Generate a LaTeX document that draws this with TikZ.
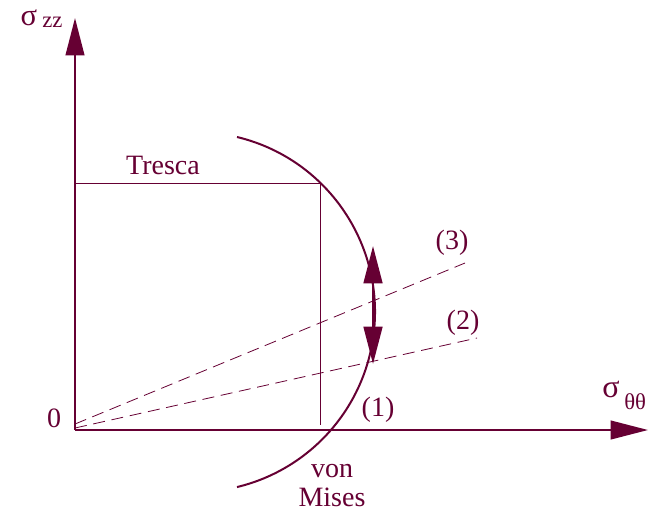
\documentclass[tikz,border=0pt]{standalone}
\usepackage{fontspec}
\setmainfont{Liberation Serif}
\usepackage{xcolor}
\usetikzlibrary{arrows.meta}
\definecolor{wine}{RGB}{102,0,51}

\begin{document}
\begin{tikzpicture}[x=0.75pt,y=-0.75pt,font=\fontsize{21}{25}\selectfont,
    color=wine,text=wine,
    axis/.style={line width=1.5pt,-{Triangle[length=28pt,width=14pt]}},
    thin line/.style={line width=0.6pt},
    yield/.style={line width=1.5pt},
    load path/.style={line width=0.6pt,dash pattern=on 9pt off 5pt},
    sub/.style={font=\fontsize{17}{20}\selectfont,inner sep=0pt}]
\useasboundingbox (0,0) rectangle (648,511);

% axes
\coordinate (O) at (75,430);
\coordinate (ztip) at (75,18);
\coordinate (ttip) at (648,430);
\draw[axis] (O) -- (ztip);
\draw[axis] (O) -- (ttip);
\node[inner sep=0pt,font=\fontsize{23}{27}\selectfont] (szz) at (29,18) {σ};
\node[sub,anchor=west] (zz) at (42,22) {zz};
\node[inner sep=0pt,font=\fontsize{24}{28}\selectfont] (stt) at (611,389) {σ};
\node[sub,anchor=west] (tt) at (624,402) {θθ};
\node[inner sep=0pt] (zero) at (54,418) {0};

% Tresca square
\coordinate (T) at (320,183);
\coordinate (Tz) at (75,183);
\coordinate (Tt) at (320,425);
\draw[thin line] (Tz) -- (T) -- (Tt);
\node[inner sep=0pt] (tresca) at (163,165) {Tresca};

% von Mises arc
\coordinate (vmtop) at (237,137);
\draw[yield] (vmtop) arc[start angle=76.5,end angle=-76.5,radius=135pt];
\node[inner sep=0pt] (von) at (332,471) {von};
\node[inner sep=0pt] (mises) at (332,497) {Mises};

% load paths
\coordinate (p3) at (465,263);
\coordinate (p2) at (477,338);
\draw[load path] (75,424) -- (p3);
\draw[load path] (75,428) -- (p2);
\node[inner sep=0pt] (l1) at (378,410) {(1)};
\node[inner sep=0pt] (l2) at (463,323) {(2)};
\node[inner sep=0pt] (l3) at (452,243) {(3)};

% double arrow
\coordinate (da) at (373,364);
\coordinate (db) at (373,246);
\draw[line width=2pt,{Triangle[length=28pt,width=14pt]}-{Triangle[length=28pt,width=14pt]}] (da) -- (db);
\end{tikzpicture}
\end{document}
